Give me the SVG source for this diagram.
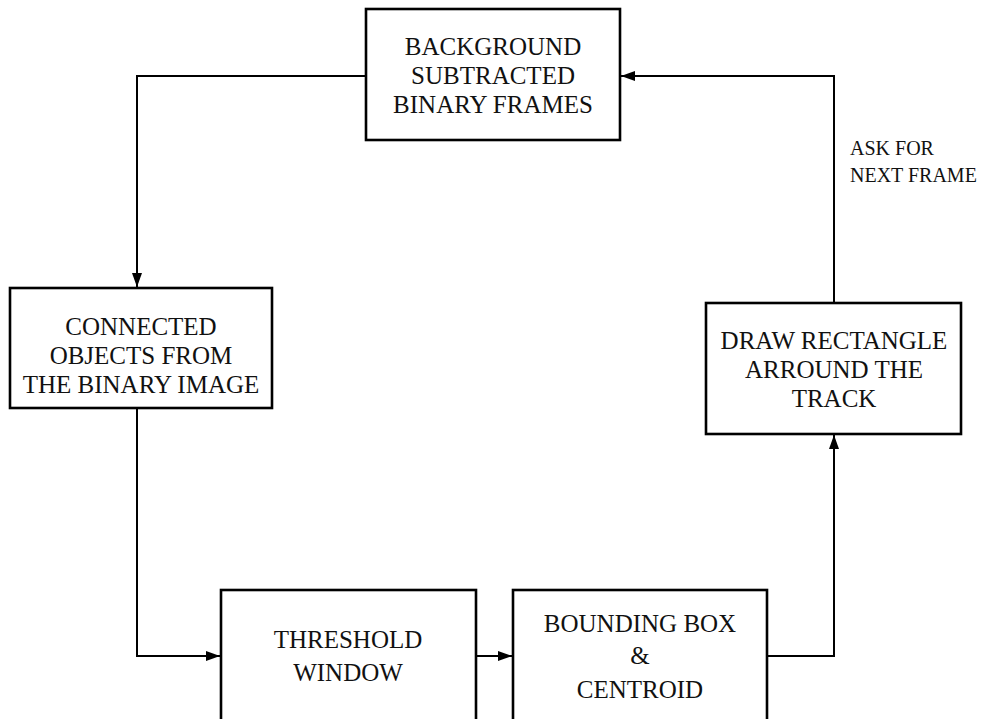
<svg xmlns="http://www.w3.org/2000/svg" width="990" height="719" viewBox="0 0 990 719">
<defs>
<style>
.box{fill:#fff;stroke:#000;stroke-width:2.6}
.t{font-family:"Liberation Serif","Times New Roman",serif;font-size:25px;fill:#111;text-anchor:middle}
.lbl{font-family:"Liberation Serif","Times New Roman",serif;font-size:20px;fill:#111}
.c{fill:none;stroke:#000;stroke-width:2}
</style>
<marker id="ah" viewBox="0 0 14 10" refX="14" refY="5" markerWidth="14" markerHeight="10" markerUnits="userSpaceOnUse" orient="auto">
<path d="M0,0 L14,5 L0,10 Z" fill="#000"/>
</marker>
</defs>
<rect width="990" height="719" fill="#fff"/>
<g id="connectors">
<path class="c" d="M366,76 H137 V287" marker-end="url(#ah)"/>
<path class="c" d="M137,408 V656 H220" marker-end="url(#ah)"/>
<path class="c" d="M477,656 H512" marker-end="url(#ah)"/>
<path class="c" d="M768,656 H834 V435" marker-end="url(#ah)"/>
<path class="c" d="M834,303 V76 H621" marker-end="url(#ah)"/>
</g>
<g id="n_background">
<rect class="box" x="366" y="9" width="254" height="131"/>
<text class="t" x="493" y="55">BACKGROUND</text>
<text class="t" x="493" y="84">SUBTRACTED</text>
<text class="t" x="493" y="113">BINARY FRAMES</text>
</g>
<g id="n_connected">
<rect class="box" x="10" y="288" width="262" height="120"/>
<text class="t" x="141" y="335">CONNECTED</text>
<text class="t" x="141" y="364">OBJECTS FROM</text>
<text class="t" x="141" y="393">THE BINARY IMAGE</text>
</g>
<g id="n_draw">
<rect class="box" x="706" y="303" width="255" height="131"/>
<text class="t" x="834" y="349">DRAW RECTANGLE</text>
<text class="t" x="834" y="378">ARROUND THE</text>
<text class="t" x="834" y="407">TRACK</text>
</g>
<g id="n_threshold">
<rect class="box" x="221" y="590" width="255" height="140"/>
<text class="t" x="348" y="648">THRESHOLD</text>
<text class="t" x="348" y="681">WINDOW</text>
</g>
<g id="n_bounding">
<rect class="box" x="513" y="590" width="254" height="140"/>
<text class="t" x="640" y="632">BOUNDING BOX</text>
<text class="t" x="640" y="664">&amp;</text>
<text class="t" x="640" y="698">CENTROID</text>
</g>
<g id="label">
<text class="lbl" x="850" y="155">ASK FOR</text>
<text class="lbl" x="850" y="182">NEXT FRAME</text>
</g>
</svg>
